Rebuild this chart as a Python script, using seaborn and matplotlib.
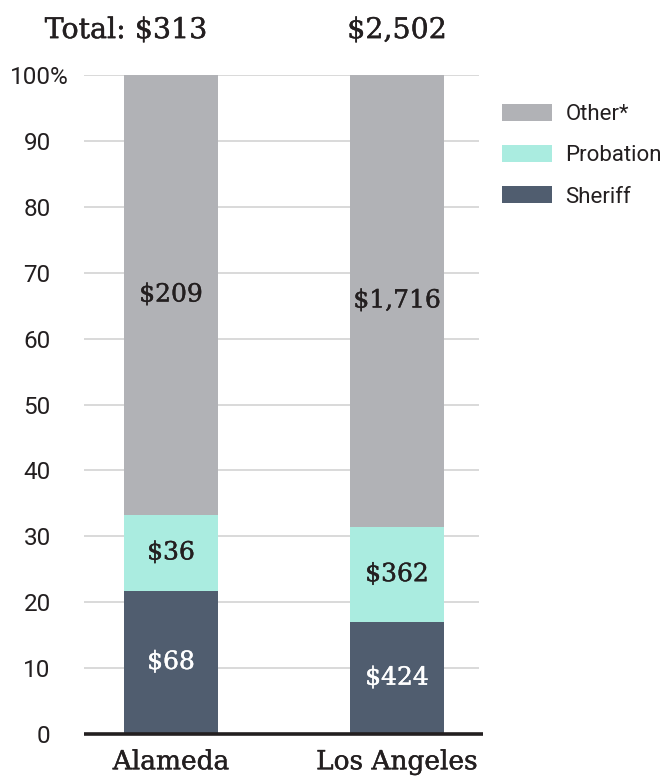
import matplotlib
matplotlib.use("Agg")
import matplotlib.pyplot as plt
import matplotlib.transforms as mtransforms
import matplotlib.patheffects as pe
from matplotlib.patches import Patch
import numpy as np
import pandas as pd
import seaborn as sns

# ---- data ----
counties = ["Alameda", "Los Angeles"]
sheriff = [68, 424]
probation = [36, 362]
other = [209, 1716]
totals = [313, 2502]
total_labels = ["$313", "$2,502"]
series_names = ["Other*", "Probation", "Sheriff"]
yticks = [0, 10, 20, 30, 40, 50, 60, 70, 80, 90, 100]

colors = {"Other*": "#b1b2b6", "Probation": "#aaece0", "Sheriff": "#505d6f"}
TXT = "#231f20"

sns.set_theme(style="white")
plt.rcParams["font.family"] = ["DejaVu Sans"]


def bold_fx(c):
    return [pe.withStroke(linewidth=0.3, foreground=c)]


tot = np.array(sheriff) + np.array(probation) + np.array(other)
p_sher = np.array(sheriff) / tot * 100
p_prob = np.array(probation) / tot * 100
p_oth = np.array(other) / tot * 100

df = pd.DataFrame({
    "county": counties,
    "sheriff_top": p_sher,
    "prob_top": p_sher + p_prob,
    "other_top": p_sher + p_prob + p_oth,
})

fig = plt.figure(figsize=(6.62, 7.79), dpi=100)
ax = fig.add_axes([84 / 662, 1 - 734 / 779, (479 - 84) / 662, (734 - 75) / 779])

W = 0.416
sns.barplot(data=df, x="county", y="other_top", color=colors["Other*"], width=W,
            ax=ax, saturation=1, zorder=2, edgecolor="none")
sns.barplot(data=df, x="county", y="prob_top", color=colors["Probation"], width=W,
            ax=ax, saturation=1, zorder=2, edgecolor="none")
sns.barplot(data=df, x="county", y="sheriff_top", color=colors["Sheriff"], width=W,
            ax=ax, saturation=1, zorder=2, edgecolor="none")

ax.set_xlim(-0.385, 1.363)
ax.set_ylim(0, 100)
for s in ax.spines.values():
    s.set_visible(False)
ax.set_yticks(yticks)
ax.set_yticklabels([str(v) for v in yticks], fontfamily="Roboto", fontsize=17.5, color=TXT)
ax.tick_params(axis="y", length=0, pad=24)
ax.tick_params(axis="x", length=0, pad=11)
ax.set_xticks(range(len(counties)))
ax.set_xticklabels(counties, fontfamily="DejaVu Serif", fontsize=19, color=TXT)
for lab in ax.get_xticklabels():
    lab.set_path_effects(bold_fx(TXT))
ax.set_xlabel("")
ax.set_ylabel("")
for v in yticks[1:]:
    ax.axhline(v, color="#d9d9d9", lw=1.4, zorder=1)
ax.plot([-0.385, 1.38], [0, 0], color="#231f20", lw=2.6, zorder=3, clip_on=False,
        solid_capstyle="butt")

# percent sign after 100
offs = mtransforms.offset_copy(ax.get_yaxis_transform(), fig=fig, x=-34, y=0, units="dots")
ax.text(0, 100, "%", transform=offs, ha="left", va="center_baseline",
        fontfamily="Roboto", fontsize=17.5, color=TXT)

# segment labels
for i in range(len(counties)):
    segs = [(0, p_sher[i], sheriff[i], "white"),
            (p_sher[i], p_sher[i] + p_prob[i], probation[i], TXT),
            (p_sher[i] + p_prob[i], 100, other[i], TXT)]
    for lo, hi, val, c in segs:
        ax.text(i, (lo + hi) / 2, f"${val:,}", ha="center", va="center",
                fontfamily="DejaVu Serif", fontsize=18, color=c, zorder=4,
                path_effects=bold_fx(c))

# totals on top
for i, lab in enumerate(total_labels):
    t = ax.text(i, 105.6, lab, ha="center", va="baseline", fontfamily="DejaVu Serif",
                fontsize=20.5, color=TXT, clip_on=False, path_effects=bold_fx(TXT))
    if i == 0:
        ax.annotate("Total: ", xy=(0, 0), xycoords=t, ha="right", va="bottom",
                    fontfamily="DejaVu Serif", fontsize=20.5, color=TXT,
                    path_effects=bold_fx(TXT))

handles = [Patch(facecolor=colors[n], edgecolor="none") for n in series_names]
leg = fig.legend(handles, series_names, loc="upper left",
                 bbox_to_anchor=(502 / 662, 1 - 104 / 779), frameon=False,
                 prop={"family": "Roboto", "size": 16}, handlelength=2.25,
                 handleheight=0.8, handletextpad=0.6, labelspacing=0.9, borderpad=0,
                 borderaxespad=0)
for txt in leg.get_texts():
    txt.set_color(TXT)

fig.savefig("out.png", dpi=100)
